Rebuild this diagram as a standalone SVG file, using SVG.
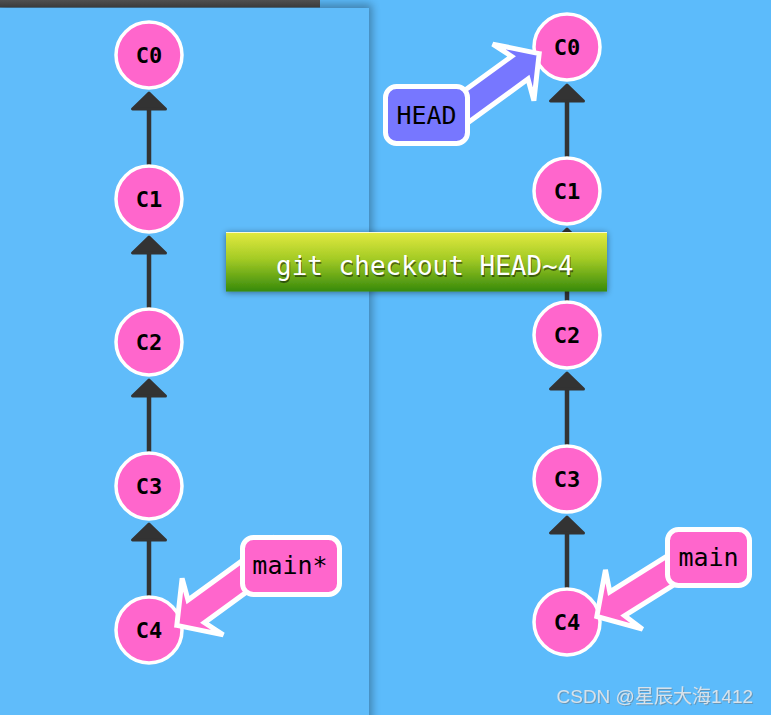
<svg xmlns="http://www.w3.org/2000/svg" xmlns:xlink="http://www.w3.org/1999/xlink" width="771" height="715" viewBox="0 0 771 715">
<defs>
<style>
.node circle{fill:#ff66cc;stroke:#fff;stroke-width:3.5}
.node text{font-family:"DejaVu Sans Mono",monospace;font-weight:bold;font-size:22px;fill:#000;text-anchor:middle}
.edge line{stroke:#333;stroke-width:4.5}
.ah{fill:#333;stroke:#333;stroke-width:3;stroke-linejoin:round}
.barr{stroke:#fff;stroke-width:5;stroke-linejoin:miter}
.lbl rect{stroke:#fff;stroke-width:5}
.lbl text{font-family:"DejaVu Sans Mono",monospace;font-size:25px;fill:#000;text-anchor:middle}
.cmd{font-family:"DejaVu Sans Mono",monospace;font-size:26px}
</style>
<path id="ahp" class="ah" d="M0,1.5 L-16.5,17.5 L16.5,17.5 Z"/>
<linearGradient id="gcmd" x1="0" y1="0" x2="0" y2="1">
<stop offset="0" stop-color="#e3ea40"/>
<stop offset="0.45" stop-color="#a4cb25"/>
<stop offset="1" stop-color="#378a0b"/>
</linearGradient>
<linearGradient id="gbar" x1="0" y1="0" x2="0" y2="1">
<stop offset="0" stop-color="#505050"/>
<stop offset="1" stop-color="#3a3a3a"/>
</linearGradient>
<filter id="blur" x="-20%" y="-20%" width="140%" height="140%"><feGaussianBlur stdDeviation="4"/></filter>
<filter id="shd" x="-10%" y="-40%" width="120%" height="180%"><feDropShadow dx="0" dy="1" stdDeviation="3" flood-color="#000" flood-opacity="0.45"/></filter>
</defs>
<rect width="771" height="715" fill="#5cbbfb"/>
<rect x="0" y="4" width="372" height="720" fill="#000" opacity="0.3" filter="url(#blur)"/>
<rect x="0" y="8" width="369" height="707" fill="#60bcfa"/>
<rect x="0" y="0" width="320" height="7.5" fill="url(#gbar)"/>

<g id="connectors">
<g class="edge">
<line x1="149" y1="100" x2="149" y2="165"/>
<line x1="149" y1="244" x2="149" y2="308"/>
<line x1="149" y1="387" x2="149" y2="452"/>
<line x1="149" y1="531" x2="149" y2="596"/>
<line x1="567" y1="92" x2="567" y2="157"/>
<line x1="567" y1="236" x2="567" y2="301"/>
<line x1="567" y1="380" x2="567" y2="445"/>
<line x1="567" y1="524" x2="567" y2="588"/>
</g>
<use xlink:href="#ahp" href="#ahp" x="149" y="91.5"/>
<use xlink:href="#ahp" href="#ahp" x="149" y="235.5"/>
<use xlink:href="#ahp" href="#ahp" x="149" y="378.5"/>
<use xlink:href="#ahp" href="#ahp" x="149" y="522.5"/>
<use xlink:href="#ahp" href="#ahp" x="567" y="83.5"/>
<use xlink:href="#ahp" href="#ahp" x="567" y="227.5"/>
<use xlink:href="#ahp" href="#ahp" x="567" y="371.5"/>
<use xlink:href="#ahp" href="#ahp" x="567" y="515.5"/>
</g>

<g id="L-C0" class="node"><circle cx="149" cy="55" r="33"/><text x="149" y="63">C0</text></g>
<g id="L-C1" class="node"><circle cx="149" cy="199" r="33"/><text x="149" y="207">C1</text></g>
<g id="L-C2" class="node"><circle cx="149" cy="342" r="33"/><text x="149" y="350">C2</text></g>
<g id="L-C3" class="node"><circle cx="149" cy="486" r="33"/><text x="149" y="494">C3</text></g>
<g id="L-C4" class="node"><circle cx="149" cy="630" r="33"/><text x="149" y="638">C4</text></g>

<g id="R-C0" class="node"><circle cx="567" cy="47" r="33"/><text x="567" y="55">C0</text></g>
<g id="R-C1" class="node"><circle cx="567" cy="191" r="33"/><text x="567" y="199">C1</text></g>
<g id="R-C2" class="node"><circle cx="567" cy="335" r="33"/><text x="567" y="343">C2</text></g>
<g id="R-C3" class="node"><circle cx="567" cy="479" r="33"/><text x="567" y="487">C3</text></g>
<g id="R-C4" class="node"><circle cx="567" cy="622" r="33"/><text x="567" y="630">C4</text></g>

<g id="ref-arrows">
<path class="barr" fill="#ff66cc" transform="translate(176,626) rotate(144)" d="M-1,0 L-33,-35 L-25,-14 L-130,-14 L-130,14 L-25,14 L-33,35 Z"/>
<path class="barr" fill="#ff66cc" transform="translate(596,617) rotate(148)" d="M-1,0 L-33,-35 L-25,-14 L-130,-14 L-130,14 L-25,14 L-33,35 Z"/>
<path class="barr" fill="#7777ff" transform="translate(540,53) rotate(-36)" d="M-1,0 L-33,-35 L-25,-14 L-130,-14 L-130,14 L-25,14 L-33,35 Z"/>
</g>

<g id="label-main-star" class="lbl"><rect x="242.5" y="537.5" width="97" height="57" rx="11" fill="#ff66cc"/><text x="290" y="574">main*</text></g>
<g id="label-main" class="lbl"><rect x="667.5" y="529.5" width="82" height="56" rx="11" fill="#ff66cc"/><text x="708.5" y="566">main</text></g>
<g id="label-HEAD" class="lbl"><rect x="385.5" y="86.5" width="82" height="57" rx="11" fill="#7777ff"/><text x="426.5" y="123.5">HEAD</text></g>

<g id="command">
<rect x="226" y="232" width="381" height="59.5" fill="url(#gcmd)" filter="url(#shd)"/>
<rect x="226" y="232" width="381" height="1" fill="#fff" opacity="0.8"/>
<text class="cmd" x="277" y="276.5" fill="#000" opacity="0.45">git checkout HEAD~4</text>
<text class="cmd" x="276" y="275" fill="#fff">git checkout HEAD~4</text>
</g>

<g id="watermark" font-family="'Liberation Sans','Noto Sans CJK SC',sans-serif" font-size="19">
<text x="557.5" y="703.5" fill="#6a7f90" opacity="0.6">CSDN @星辰大海1412</text>
<text x="556.5" y="702.5" fill="#e4e8ec" opacity="0.9">CSDN @星辰大海1412</text>
</g>
</svg>
